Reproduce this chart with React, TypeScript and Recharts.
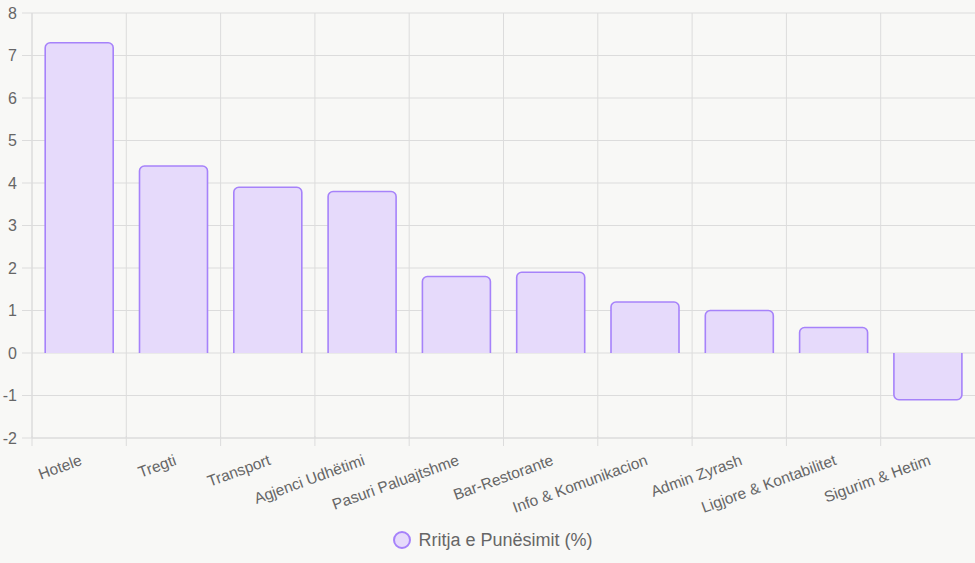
import { BarChart, Bar, XAxis, YAxis, CartesianGrid, Legend } from 'recharts'

const sectors = [
  'Hotele',
  'Tregti',
  'Transport',
  'Agjenci Udhëtimi',
  'Pasuri Paluajtshme',
  'Bar-Restorante',
  'Info & Komunikacion',
  'Admin Zyrash',
  'Ligjore & Kontabilitet',
  'Sigurim & Hetim',
]
const growth = [7.3, 4.4, 3.9, 3.8, 1.8, 1.9, 1.2, 1.0, 0.6, -1.1]
const yTicks = [-2, -1, 0, 1, 2, 3, 4, 5, 6, 7, 8]
const seriesName = 'Rritja e Punësimit (%)'

const data = sectors.map((name, i) => ({ name, value: growth[i] }))

const W = 975
const H = 563
const Y_AXIS_W = 32
const BAND = (W - Y_AXIS_W) / sectors.length
const FILL = '#e6dafb'
const STROKE = '#a682fa'
const GRID = '#dcdcdc'
const TEXT = '#666'
const FONT = '"Liberation Sans", Arial, sans-serif'

function RoundedBar(props: any) {
  const { x, y, width, height, payload } = props
  const top = Math.min(y, y + height)
  const bot = Math.max(y, y + height)
  const w = width
  const r = Math.min(5, w / 2, bot - top)
  let strokePath = ''
  if (payload.value >= 0) {
    strokePath = `M${x},${bot} L${x},${top + r} A${r},${r} 0 0 1 ${x + r},${top} L${x + w - r},${top} A${r},${r} 0 0 1 ${x + w},${top + r} L${x + w},${bot}`
  } else {
    strokePath = `M${x},${top} L${x},${bot - r} A${r},${r} 0 0 0 ${x + r},${bot} L${x + w - r},${bot} A${r},${r} 0 0 0 ${x + w},${bot - r} L${x + w},${top}`
  }
  const fillPath = strokePath + ' Z'
  return (
    <g>
      <path d={fillPath} fill={FILL} stroke="none" />
      <path d={strokePath} fill="none" stroke={STROKE} strokeWidth={1.6} />
    </g>
  )
}

function XTick(props: any) {
  const { x, y, payload } = props
  const bx = x - BAND / 2
  return (
    <g>
      <line x1={bx} y1={y - 8} x2={bx} y2={y + 2} stroke={GRID} />
      <text
        x={x}
        y={y + 10}
        transform={`rotate(-20, ${x}, ${y + 10})`}
        textAnchor="end"
        dy="0.71em"
        fill={TEXT}
        fontSize={15.5}
        fontFamily={FONT}
      >
        {payload.value}
      </text>
    </g>
  )
}

function LegendContent() {
  return (
    <div
      style={{
        display: 'flex',
        justifyContent: 'center',
        alignItems: 'center',
        height: 30,
        fontFamily: FONT,
        fontSize: 18,
        color: TEXT,
        paddingLeft: 10,
      }}
    >
      <svg width={22} height={20} style={{ marginRight: 4 }}>
        <circle cx={10} cy={10} r={8} fill={FILL} stroke={STROKE} strokeWidth={2} />
      </svg>
      <span>{seriesName}</span>
    </div>
  )
}

export default function App() {
  return (
    <div style={{ position: 'absolute', left: 0, top: 0, width: W, height: H, background: '#f8f8f6' }}>
      <BarChart
        width={W}
        height={H}
        data={data}
        margin={{ top: 13, right: 0, left: 0, bottom: 8 }}
        barCategoryGap="14%"
      >
        <CartesianGrid
          stroke={GRID}
          verticalCoordinatesGenerator={({ offset }: any) =>
            sectors.map((_, i) => offset.left + (i * offset.width) / sectors.length)
          }
        />
        <XAxis
          dataKey="name"
          interval={0}
          height={87}
          axisLine={{ stroke: GRID }}
          tickLine={false}
          tick={<XTick />}
          tickMargin={0}
        />
        <YAxis
          width={Y_AXIS_W}
          domain={[-2, 8]}
          ticks={yTicks}
          interval={0}
          axisLine={{ stroke: GRID }}
          tickLine={{ stroke: GRID }}
          tickSize={10}
          tickMargin={5}
          tick={{ fill: TEXT, fontSize: 16, fontFamily: FONT }}
        />
        <Legend verticalAlign="bottom" height={30} content={<LegendContent />} />
        <Bar dataKey="value" name={seriesName} shape={<RoundedBar />} isAnimationActive={false} />
      </BarChart>
    </div>
  )
}
